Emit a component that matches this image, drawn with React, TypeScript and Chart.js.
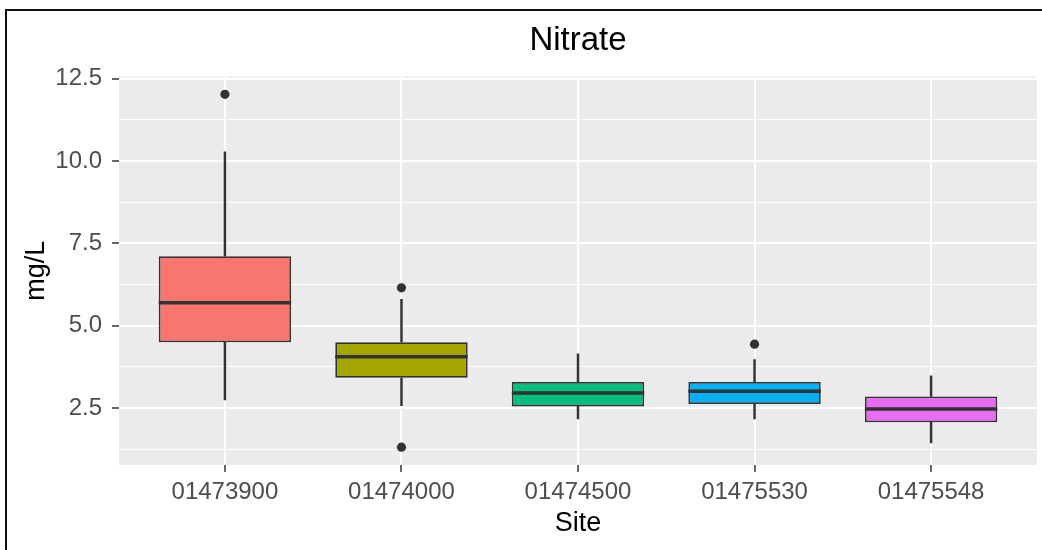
import React, { useEffect, useRef } from 'react';
import { Chart, registerables } from 'chart.js';

Chart.register(...registerables);

const TITLE = 'Nitrate';
const X_TITLE = 'Site';
const Y_TITLE = 'mg/L';

const sites = ['01473900', '01474000', '01474500', '01475530', '01475548'];
const lowerWhisker = [2.75, 2.57, 2.17, 2.17, 1.44];
const q1 = [4.5, 3.42, 2.55, 2.62, 2.07];
const median = [5.7, 4.06, 2.96, 3.01, 2.47];
const q3 = [7.11, 4.5, 3.29, 3.29, 2.85];
const upperWhisker = [10.28, 5.8, 4.15, 3.97, 3.48];
const outlierSite = [1, 2, 2, 4];
const outlierValue = [12.03, 6.15, 1.31, 4.44];
const fills = ['#F8766D', '#A3A500', '#00BF7D', '#00B0F6', '#E76BF3'];
const yTicks = [1.25, 2.5, 3.75, 5, 6.25, 7.5, 8.75, 10, 11.25, 12.5];

const FONT = "'Liberation Sans', Arial, sans-serif";
const isMajor = (v: number) => Math.abs(v / 2.5 - Math.round(v / 2.5)) < 1e-6;

const panelPlugin = {
  id: 'panel',
  beforeDraw(chart: any) {
    const { ctx, chartArea: a } = chart;
    ctx.save();
    ctx.fillStyle = '#EBEBEB';
    ctx.fillRect(a.left, a.top, a.right - a.left, a.bottom - a.top);
    ctx.restore();
  },
  afterDatasetsDraw(chart: any) {
    const { ctx } = chart;
    const meta = chart.getDatasetMeta(0);
    const ys = chart.scales.y;
    ctx.save();
    ctx.strokeStyle = '#333333';
    ctx.lineWidth = 3.5;
    meta.data.forEach((el: any, i: number) => {
      const { x, width } = el.getProps(['x', 'width'], true);
      const y = ys.getPixelForValue(median[i]);
      ctx.beginPath();
      ctx.moveTo(x - width / 2, y);
      ctx.lineTo(x + width / 2, y);
      ctx.stroke();
    });
    ctx.restore();
  },
  afterDraw(chart: any) {
    const { ctx, chartArea: a, width, height } = chart;
    ctx.save();
    ctx.fillStyle = '#000000';
    ctx.font = `33px ${FONT}`;
    ctx.textAlign = 'center';
    ctx.textBaseline = 'middle';
    ctx.fillText(TITLE, (a.left + a.right) / 2, 41);
    // outer frame
    ctx.strokeStyle = '#111111';
    ctx.lineWidth = 2;
    ctx.beginPath();
    ctx.moveTo(width + 2, 10);
    ctx.lineTo(6, 10);
    ctx.lineTo(6, height + 2);
    ctx.stroke();
    ctx.restore();
  },
};

export default function App() {
  const ref = useRef<HTMLCanvasElement | null>(null);

  useEffect(() => {
    if (!ref.current) return;
    const boxData = sites.map((_, i) => ({ x: i + 1, y: [q1[i], q3[i]] }));
    const upperData = sites.map((_, i) => ({ x: i + 1, y: [q3[i], upperWhisker[i]] }));
    const lowerData = sites.map((_, i) => ({ x: i + 1, y: [lowerWhisker[i], q1[i]] }));
    const outData = outlierSite.map((s, i) => ({ x: s, y: outlierValue[i] }));

    const chart = new Chart(ref.current, {
      type: 'bar',
      data: {
        datasets: [
          {
            type: 'bar',
            data: boxData as any,
            backgroundColor: fills,
            borderColor: '#333333',
            borderWidth: 1.8,
            borderSkipped: false,
            grouped: false,
            barPercentage: 0.75,
            categoryPercentage: 1,
            order: 1,
          },
          {
            type: 'bar',
            data: upperData as any,
            backgroundColor: '#333333',
            borderWidth: 0,
            grouped: false,
            barThickness: 1.8,
            order: 2,
          },
          {
            type: 'bar',
            data: lowerData as any,
            backgroundColor: '#333333',
            borderWidth: 0,
            grouped: false,
            barThickness: 1.8,
            order: 2,
          },
          {
            type: 'scatter',
            data: outData as any,
            backgroundColor: '#333333',
            borderWidth: 0,
            pointRadius: 4.6,
            order: 0,
          } as any,
        ],
      },
      options: {
        animation: false,
        responsive: false,
        events: [],
        layout: { padding: { top: 76.5, right: 5, bottom: 0, left: 0 } },
        plugins: { legend: { display: false }, tooltip: { enabled: false }, title: { display: false } },
        scales: {
          x: {
            type: 'linear',
            min: 0.4,
            max: 5.6,
            offset: false,
            afterBuildTicks: (s: any) => {
              s.ticks = sites.map((_, i) => ({ value: i + 1 }));
            },
            afterFit: (s: any) => {
              s.height = 85;
            },
            border: { display: false },
            grid: {
              offset: false,
              color: '#FFFFFF',
              lineWidth: 2,
              tickColor: '#333333',
              tickWidth: 1.5,
              tickLength: 7,
            },
            ticks: {
              autoSkip: false,
              maxRotation: 0,
              padding: 6,
              color: '#4D4D4D',
              font: { family: FONT, size: 24 },
              callback: (v: any) => sites[Math.round(Number(v)) - 1] ?? '',
            },
            title: {
              display: true,
              text: X_TITLE,
              color: '#000000',
              font: { family: FONT, size: 27 },
              padding: { top: 0, bottom: 10 },
            },
          },
          y: {
            type: 'linear',
            min: 0.77,
            max: 12.57,
            afterBuildTicks: (s: any) => {
              s.ticks = yTicks.map((v) => ({ value: v }));
            },
            afterFit: (s: any) => {
              s.width = 119;
            },
            border: { display: false },
            grid: {
              color: '#FFFFFF',
              lineWidth: (c: any) => (c.tick && isMajor(c.tick.value) ? 2 : 1),
              tickColor: (c: any) => (c.tick && isMajor(c.tick.value) ? '#333333' : 'rgba(0,0,0,0)'),
              tickWidth: 1.5,
              tickLength: 7,
            },
            ticks: {
              autoSkip: false,
              padding: 10,
              color: '#4D4D4D',
              font: { family: FONT, size: 24 },
              callback: (v: any) => (isMajor(Number(v)) ? Number(v).toFixed(1) : ''),
            },
            title: {
              display: true,
              text: Y_TITLE,
              color: '#000000',
              font: { family: FONT, size: 27 },
              padding: { top: 20, bottom: 0 },
            },
          },
        },
      },
      plugins: [panelPlugin],
    });
    return () => chart.destroy();
  }, []);

  return (
    <div style={{ position: 'fixed', left: 0, top: 0, width: 1042, height: 550, background: '#FFFFFF' }}>
      <canvas ref={ref} width={1042} height={550} style={{ display: 'block' }} />
    </div>
  );
}
